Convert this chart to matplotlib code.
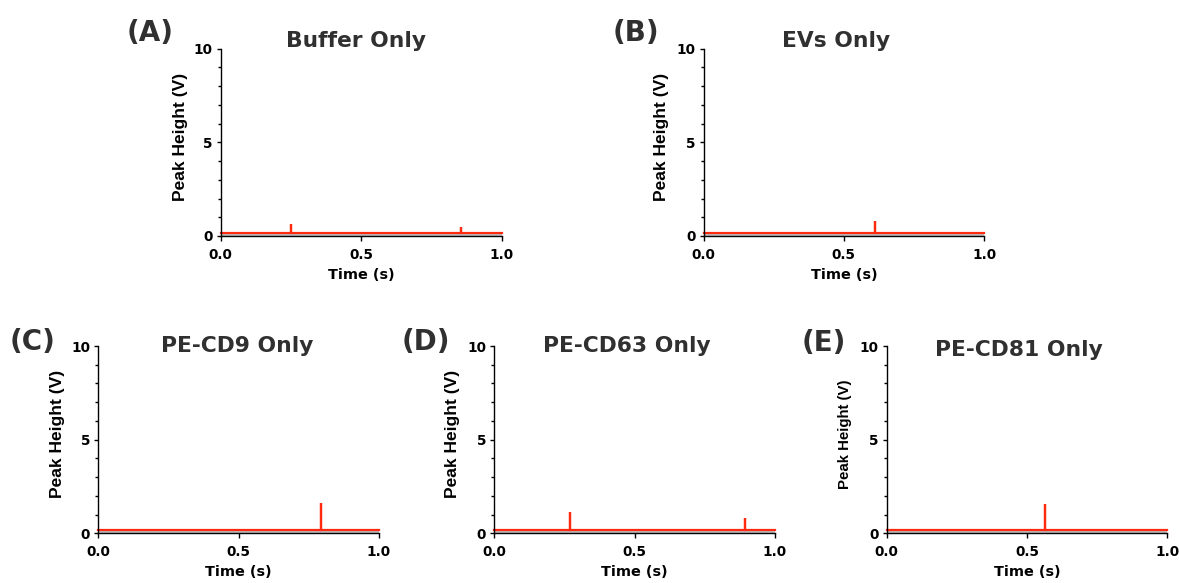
import numpy as np
import matplotlib.pyplot as plt
from matplotlib.ticker import MultipleLocator, FixedLocator

# data
panel_labels = ['(A)', '(B)', '(C)', '(D)', '(E)']
titles = ['Buffer Only', 'EVs Only', 'PE-CD9 Only', 'PE-CD63 Only', 'PE-CD81 Only']
baseline_v = 0.18
spike_times = [[0.25, 0.854], [0.611], [0.793], [0.27, 0.894], [0.565]]
spike_heights = [[0.64, 0.46], [0.80], [1.64], [1.14, 0.82], [1.57]]
x_ticks = [0.0, 0.5, 1.0]
y_ticks = [0, 5, 10]

W, H = 1179, 583
# axes boxes in pixels: left, top, right, bottom
boxes = [(220.7, 48.7, 501.7, 236.0),
         (703.7, 48.7, 984.0, 236.0),
         (98.3, 346.0, 379.0, 533.3),
         (494.3, 346.0, 775.0, 533.3),
         (886.7, 346.0, 1167.3, 533.3)]
title_pos = [(356, 46.7), (836, 46.7), (237, 352), (627, 351.7), (1019, 356)]
label_pos = [(127, 41), (613, 41), (10, 350), (402, 350), (802, 351)]
ylabel_x = [-0.115, -0.125, -0.119, -0.122, -0.125]
ylabel_size = [12.5, 12.5, 12.5, 12.5, 10.8]

red = '#fe2a10'
dark = '#303030'
hfont = 'DejaVu Sans'

fig = plt.figure(figsize=(W / 100, H / 100), dpi=100)

for i in range(5):
    l, t, r, b = boxes[i]
    ax = fig.add_axes([l / W, 1 - b / H, (r - l) / W, (b - t) / H])

    # build the trace: flat baseline with vertical spikes
    xs, ys = [0.0], [baseline_v]
    for st, sh in zip(spike_times[i], spike_heights[i]):
        xs += [st, st, st]
        ys += [baseline_v, sh, baseline_v]
    xs.append(1.0)
    ys.append(baseline_v)
    ax.fill_between([0.0, 1.0], 0, baseline_v, color='#bdbdbd', lw=0)
    ax.plot(xs, ys, color=red, lw=1.6, solid_joinstyle='miter', clip_on=False)

    ax.set_xlim(0, 1)
    ax.set_ylim(0, 10)
    for s in ['top', 'right']:
        ax.spines[s].set_visible(False)
    for s in ['left', 'bottom']:
        ax.spines[s].set_linewidth(1.0)
        ax.spines[s].set_color('black')
    ax.xaxis.set_major_locator(FixedLocator(x_ticks))
    ax.yaxis.set_major_locator(FixedLocator(y_ticks))
    ax.yaxis.set_minor_locator(MultipleLocator(1))
    ax.set_xticklabels(['%.1f' % v for v in x_ticks], fontsize=9.8,
                       fontweight='bold', family=hfont)
    ax.set_yticklabels([str(v) for v in y_ticks], fontsize=9.8,
                       fontweight='bold', family=hfont)
    ax.tick_params(axis='x', which='major', length=3.6, width=1.0, pad=5.0,
                   direction='out')
    ax.tick_params(axis='y', which='major', length=2.8, width=1.0, pad=3,
                   direction='out')
    ax.tick_params(axis='y', which='minor', length=2.0, width=1.0,
                   direction='out')

    ax.set_xlabel('Time (s)', fontsize=10.4, fontweight='bold', family=hfont)
    ax.xaxis.set_label_coords(0.5, -0.17)
    ax.set_ylabel('Peak Height (V)', fontsize=ylabel_size[i], fontweight='bold',
                  family='Liberation Sans')
    ax.yaxis.set_label_coords(ylabel_x[i], 0.53)

    tx, ty = title_pos[i]
    fig.text(tx / W, 1 - ty / H, titles[i], ha='center', va='baseline',
             fontsize=15.7, fontweight='bold', family=hfont, color=dark)
    px, py = label_pos[i]
    fig.text(px / W, 1 - py / H, panel_labels[i], ha='left', va='baseline',
             fontsize=20, fontweight='bold', family=hfont, color=dark)

fig.savefig('out.png', dpi=100)
